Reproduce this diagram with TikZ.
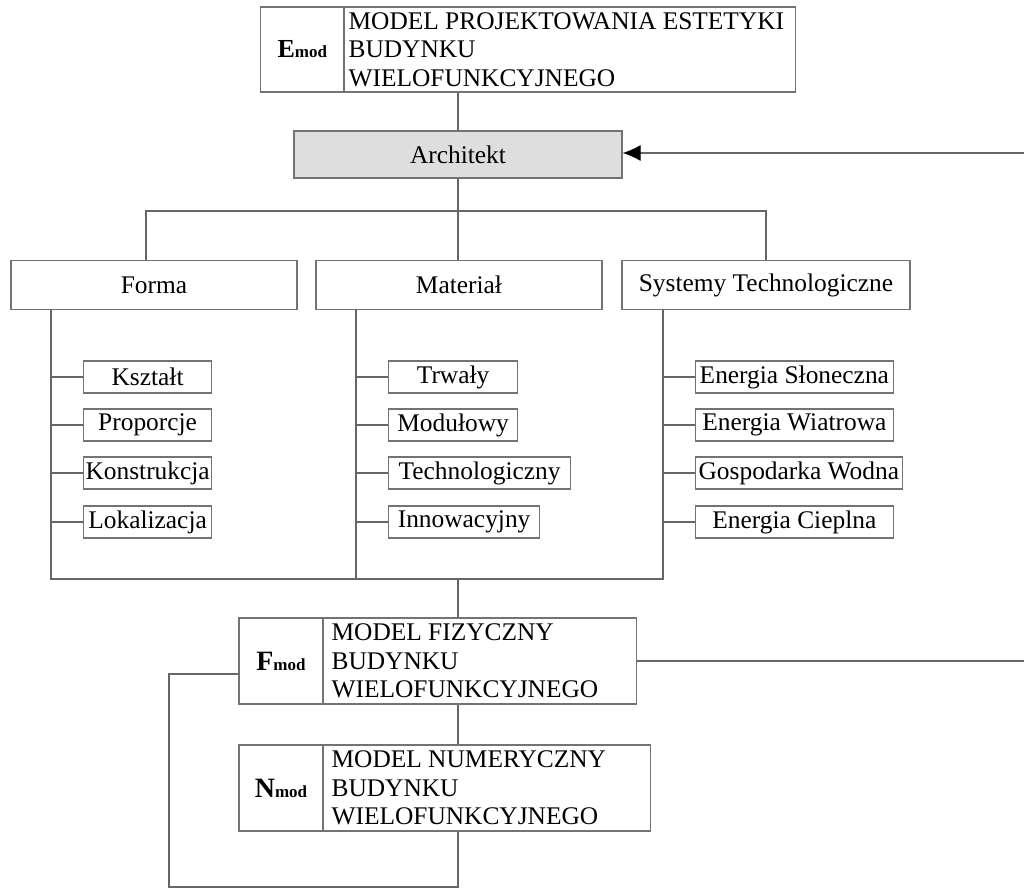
\documentclass[tikz,border=0pt]{standalone}
\usepackage{fontspec}
\setmainfont{Liberation Serif}
\usetikzlibrary{arrows.meta}

\begin{document}
\begin{tikzpicture}[x=0.5pt, y=-0.5pt, every node/.style={font=\fontsize{12.7}{14.3}\selectfont}, >={Latex[length=9pt,width=8pt,color=black]},
	ln/.style={black!60, line width=0.6pt},
	cell/.style={draw=black!55, line width=0.6pt, inner sep=0pt},
	txtcell/.style={cell, align=flush left, anchor=west, inner xsep=4pt},
	catbox/.style={cell, minimum width=143pt, minimum height=24.25pt},
	subbox/.style={cell, anchor=west, minimum height=16pt, inner xsep=1pt}]
	\useasboundingbox (0,0) rectangle (1024,888);
	\node[cell, minimum width=41.75pt, minimum height=42.5pt] (emodL) at (302.25,49.5) {{\fontsize{13}{14}\selectfont\bfseries E}{\fontsize{8.5}{10}\selectfont\bfseries mod}};
	\node[txtcell, inner xsep=2pt, text width=221.5pt, minimum height=42.5pt] (emodT) at (344,49.5) {MODEL PROJEKTOWANIA ESTETYKI\\BUDYNKU\\WIELOFUNKCYJNEGO};
	\node[cell, fill=black!13, minimum width=164pt, minimum height=23.5pt] (arch) at (458,154.5) {Architekt};
	\draw[ln] (arch.north |- emodT.south) -- (arch.north);
	\node[catbox] (forma) at (154,285) {Forma};
	\node[catbox] (mat) at (459,285) {Materiał};
	\node[catbox, minimum width=144pt] (syst) at (766,285) {Systemy Technologiczne};
	\coordinate (busL) at (146,211);
	\coordinate (busR) at (766,211);
	\draw[ln] (arch.south) -- (arch.south |- mat.north);
	\draw[ln] (busL |- forma.north) -- (busL) -- (busR) -- (syst.north);
	\coordinate (fs) at (51,579);
	\coordinate (ms) at (356,579);
	\coordinate (ss) at (663,579);
	\draw[ln] (forma.south -| fs) -- (fs) -- (ss) -- (syst.south -| ss);
	\draw[ln] (mat.south -| ms) -- (ms);
	\foreach \n/\t/\y in {f1/Kształt/377, f2/Proporcje/425, f3/Konstrukcja/473, f4/Lokalizacja/522}{
		\node[subbox, minimum width=64pt] (\n) at (83,\y) {\t};
		\draw[ln] (fs |- \n.west) -- (\n.west);
	}
	\foreach \n/\t/\y/\w in {m1/Trwały/377/64.5pt, m2/Modułowy/425/64.5pt, m3/Technologiczny/473/91pt, m4/Innowacyjny/522/75.5pt}{
		\node[subbox, minimum width=\w] (\n) at (388,\y) {\t};
		\draw[ln] (ms |- \n.west) -- (\n.west);
	}
	\foreach \n/\t/\y/\w in {s1/Energia Słoneczna/377/99.25pt, s2/Energia Wiatrowa/425/99.25pt, s3/Gospodarka Wodna/473/103.75pt, s4/Energia Cieplna/522/99.25pt}{
		\node[subbox, minimum width=\w] (\n) at (694.5,\y) {\t};
		\draw[ln] (ss |- \n.west) -- (\n.west);
	}
	\node[cell, minimum width=42pt, minimum height=43pt] (fmodL) at (281,661) {{\fontsize{14}{15}\selectfont\bfseries F}{\fontsize{8.5}{10}\selectfont\bfseries mod}};
	\node[txtcell, text width=148.5pt, minimum height=43pt] (fmodT) at (323,661) {MODEL FIZYCZNY\\BUDYNKU\\WIELOFUNKCYJNEGO};
	\node[cell, minimum width=42pt, minimum height=43pt] (nmodL) at (281,788) {{\fontsize{14}{15}\selectfont\bfseries N}{\fontsize{8.5}{10}\selectfont\bfseries mod}};
	\node[txtcell, text width=155.5pt, minimum height=43pt] (nmodT) at (323,788) {MODEL NUMERYCZNY\\BUDYNKU\\WIELOFUNKCYJNEGO};
	\coordinate (mid) at (458,579);
	\draw[ln] (mid) -- (mid |- fmodT.north);
	\draw[ln] (mid |- fmodT.south) -- (mid |- nmodT.north);
	\coordinate (loopB) at (169,887);
	\draw[ln] (mid |- nmodT.south) -- (mid |- loopB) -- (loopB) |- ([yshift=-6.5pt]fmodL.west);
	\coordinate (edgeF) at (1024,661);
	\draw[ln] (fmodT.east) -- (edgeF);
	\coordinate (edgeA) at (1024,153);
	\draw[ln, ->] (edgeA) -- (edgeA -| arch.east);
\end{tikzpicture}
\end{document}
